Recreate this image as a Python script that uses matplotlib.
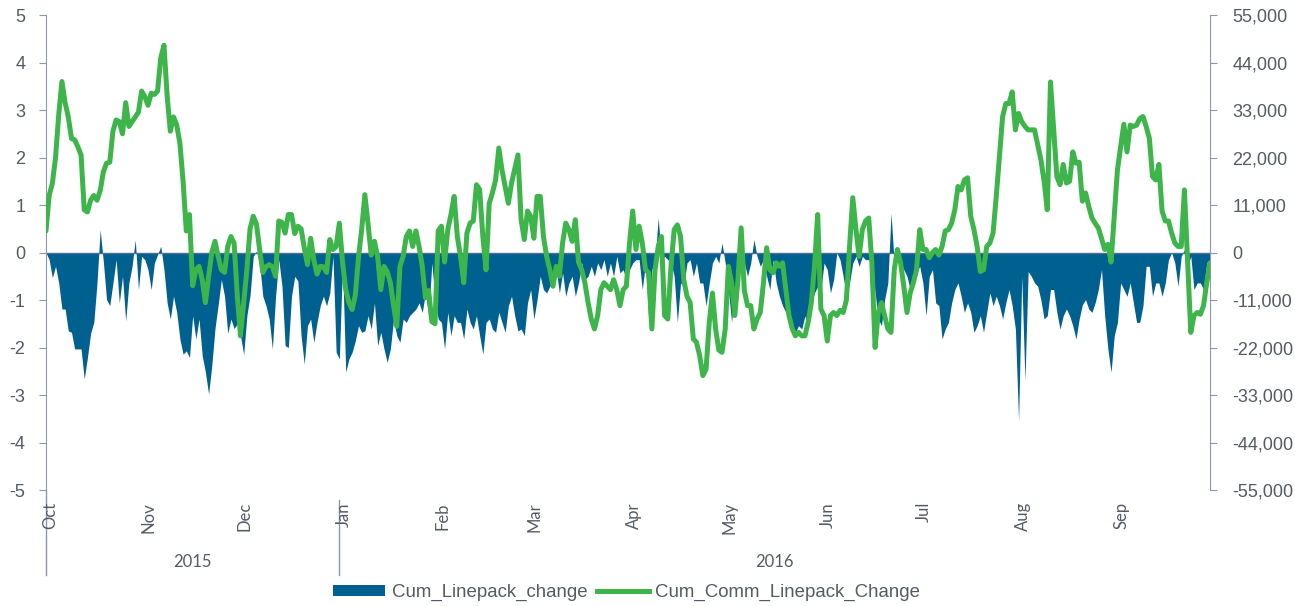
import numpy as np
import pandas as pd
import matplotlib
matplotlib.use("Agg")
import matplotlib.pyplot as plt
import matplotlib.transforms as mtransforms
from matplotlib.patches import Patch
from matplotlib.lines import Line2D
from matplotlib.ticker import FuncFormatter

plt.rcParams["font.family"] = ["Liberation Sans", "DejaVu Sans"]
plt.rcParams["axes.unicode_minus"] = False

# daily values, 1 Oct 2015 .. 30 Sep 2016
start_date = "2015-10-01"
month_labels = ["Oct", "Nov", "Dec", "Jan", "Feb", "Mar", "Apr", "May", "Jun", "Jul", "Aug", "Sep"]
year_labels = ["2015", "2016"]

# Cum_Linepack_change (left axis)
linepack_change = [
    0.0, -0.15, -0.53, -0.29, -0.64, -1.19, -1.19, -1.65, -1.68, -2.03,
    -2.03, -2.03, -2.66, -2.21, -1.7, -1.47, -0.64, 0.48, -0.2, -0.99,
    -1.12, -0.64, -0.15, -1.06, -0.5, -1.44, -0.64, -0.29, 0.27, -0.78,
    -0.08, -0.15, -0.36, -0.78, -0.22, -0.04, 0.13, -0.36, -1.06, -1.4,
    -0.92, -1.26, -1.82, -2.14, -2.07, -2.21, -1.33, -1.82, -1.4, -2.17,
    -2.52, -2.98, -2.38, -1.6, -1.1, -0.57, -0.92, -1.7, -1.4, -1.6,
    -1.5, -1.75, -2.15, -1.33, -0.9, -0.08, 0.03, -0.22, -0.92, -1.12,
    -1.4, -2.03, -0.92, -0.15, -0.7, -1.96, -2.0, -0.92, -0.5, -0.6,
    -1.75, -2.35, -1.54, -1.4, -1.89, -1.47, -1.12, -0.92, -1.12, -0.85,
    -0.08, -2.1, -2.24, -0.22, -2.52, -2.24, -2.1, -1.86, -1.54, -1.68,
    -1.65, -1.33, -1.61, -1.06, -1.96, -1.68, -2.03, -2.31, -2.03, -1.4,
    -1.75, -1.89, -1.4, -1.47, -1.33, -1.26, -1.19, -1.06, -1.26, -0.85,
    -1.33, -0.22, -0.99, -1.4, -1.47, -2.03, -1.26, -1.75, -1.33, -1.47,
    -1.47, -1.82, -1.19, -1.47, -1.61, -1.33, -1.75, -2.14, -1.47, -1.4,
    -1.61, -1.68, -1.26, -1.47, -1.68, -1.12, -0.92, -1.33, -1.65, -1.61,
    -1.75, -1.06, -0.78, -1.4, -0.99, -0.5, -0.78, -0.85, -0.71, -0.64,
    -0.36, -0.85, -0.43, -0.92, -0.64, -0.5, -0.92, -0.64, -0.22, -0.57,
    -0.5, -0.29, -0.5, -0.22, -0.36, -0.15, -0.5, -0.22, -0.5, -0.08,
    -0.43, -0.36, -0.57, -0.36, -0.22, -0.15, -0.15, -0.78, -0.22, -1.4,
    -0.36, -0.15, 0.73, -0.15, -0.08, -0.15, -0.22, -0.5, -1.47, -0.64,
    -0.71, -0.22, -0.15, -0.5, -0.22, -0.64, -0.64, -1.12, -0.64, -0.22,
    -0.08, -0.22, 0.2, -0.22, -0.78, -1.47, -0.71, -0.5, -0.36, -0.22,
    -0.5, -0.22, 0.27, -0.08, -0.29, -0.15, -0.5, -0.78, -0.15, -0.64,
    -0.92, -1.12, -1.26, -1.47, -1.61, -1.68, -1.54, -1.61, -1.33, -1.61,
    -1.06, -0.85, -0.71, -0.78, -0.22, -0.36, -0.85, -0.57, 0.0, -0.15,
    -0.5, -0.92, -0.64, -0.22, -0.08, -0.29, -0.08, -0.15, -0.15, -0.22,
    -0.85, -1.4, -1.54, -0.99, -0.64, 0.83, -0.22, -0.15, -0.22, -0.36,
    -0.5, -0.78, -0.57, -0.43, -0.29, -0.64, -1.33, -0.5, -0.36, -1.06,
    -1.12, -1.82, -1.61, -1.47, -1.06, -0.78, -0.64, -0.92, -1.26, -1.06,
    -1.26, -1.68, -1.54, -1.33, -1.68, -1.26, -0.85, -1.12, -0.92, -1.12,
    -1.4, -1.06, -0.78, -1.12, -1.61, -3.55, -0.5, -2.7, -0.4, -0.5,
    -0.64, -0.71, -1.0, -1.4, -1.33, -0.78, -0.78, -1.26, -1.61, -1.33,
    -1.19, -1.33, -1.54, -1.82, -1.4, -1.1, -0.99, -1.19, -1.26, -1.06,
    -0.78, -0.36, -1.33, -2.03, -2.52, -1.75, -1.47, -0.64, -0.78, -0.92,
    -0.64, -1.06, -1.47, -1.47, -1.12, -0.29, -0.29, -0.92, -0.64, -0.64,
    -0.92, -0.64, -0.15, 0.0, -0.22, -0.71, -0.08, 0.06, -0.29, -0.08,
    -0.78, -0.64, -0.64, -0.78, -0.22, -0.15,
]

# Cum_Comm_Linepack_Change (right axis), in thousands
comm_linepack_k = [
    5.0, 13.2, 16.0, 22.0, 31.9, 39.6, 34.7, 31.4, 26.4, 26.1,
    24.5, 22.6, 9.9, 9.4, 12.1, 13.2, 12.1, 14.3, 18.7, 20.7,
    20.9, 28.1, 30.7, 30.3, 27.5, 34.7, 29.2, 30.3, 31.4, 32.5,
    37.4, 36.1, 34.1, 36.9, 36.6, 37.4, 45.1, 48.0, 36.3, 28.1,
    31.4, 29.5, 25.3, 16.5, 5.0, 8.8, -7.7, -4.0, -3.2, -6.3,
    -11.6, -5.5, 0.0, 2.6, -0.9, -4.0, -4.6, 1.4, 3.7, 2.2,
    -10.1, -19.3, -11.6, -4.0, 5.5, 8.4, 6.6, 0.7, -4.6, -3.3,
    -2.8, -3.3, -5.5, 7.3, 7.0, 4.5, 8.8, 8.8, 4.4, 6.1,
    5.5, 1.1, -2.8, 3.3, -1.7, -5.0, -3.2, -3.3, -4.6, 3.0,
    0.7, 1.4, 6.8, -2.2, -8.6, -11.6, -13.2, -9.9, -1.1, 5.3,
    13.4, 6.6, -0.6, 2.6, -0.9, -8.6, -3.2, -4.4, -7.0, -12.3,
    -17.1, -3.2, -0.9, 3.7, 5.0, 1.4, 5.0, 1.4, -3.2, -10.5,
    -8.8, -16.0, -16.5, 5.0, 6.1, -2.2, 5.3, 8.8, 13.0, 3.7,
    -0.9, -7.0, 4.5, 6.8, 7.3, 15.7, 14.6, 3.7, -4.0, 11.4,
    13.8, 16.8, 24.2, 19.1, 15.3, 11.4, 16.1, 19.3, 22.6, 7.6,
    3.0, 9.6, 8.4, 3.3, 13.0, 13.0, 3.7, -0.9, -4.0, -7.8,
    -3.2, -5.5, 2.2, 6.8, 5.3, 2.6, 7.6, -2.2, -4.0, -7.0,
    -11.6, -15.4, -17.7, -14.6, -8.6, -7.0, -7.8, -8.6, -6.3, -8.6,
    -12.3, -8.6, -7.8, 2.2, 9.6, 0.7, 6.1, 2.2, -4.0, -4.7,
    -17.7, -4.0, 1.4, 3.7, -14.6, -15.4, -3.2, 5.3, 6.4, 3.7,
    -6.3, -10.1, -11.6, -20.0, -20.8, -23.9, -28.5, -27.0, -16.2, -9.4,
    -17.7, -22.6, -23.1, -17.7, -3.2, -7.0, -14.6, -6.3, 5.7, -8.8,
    -12.3, -12.3, -17.7, -15.4, -13.9, -7.0, 1.1, -4.0, -4.7, -2.4,
    -3.2, -2.4, -8.6, -14.6, -17.6, -19.3, -18.5, -19.3, -19.3, -16.2,
    -11.6, -3.2, 8.8, -13.1, -14.6, -20.5, -14.6, -13.9, -14.6, -13.4,
    -13.9, -11.0, 1.4, 12.7, 5.3, -0.9, 5.3, 7.3, 8.0, -2.4,
    -22.0, -13.9, -11.6, -14.6, -17.7, -18.5, -4.0, 0.7, -2.4, -7.8,
    -13.9, -9.4, -7.0, -4.0, 5.3, 0.7, 0.7, -1.2, 0.0, 0.7,
    -0.6, 1.4, 5.0, 5.3, 6.8, 9.9, 15.3, 14.5, 16.8, 17.3,
    8.4, 5.3, 1.4, -4.4, -4.0, 1.4, 2.2, 4.5, 13.0, 22.2,
    31.5, 34.5, 34.5, 37.2, 28.4, 32.2, 30.3, 29.2, 28.4, 28.4,
    28.4, 24.9, 21.5, 16.5, 9.9, 39.5, 28.4, 17.6, 15.7, 20.4,
    16.1, 16.5, 23.3, 20.7, 20.9, 11.9, 13.8, 10.7, 8.0, 6.8,
    5.7, 3.3, 0.7, 1.9, -2.2, 8.4, 19.1, 24.5, 29.7, 23.3,
    29.5, 29.2, 29.5, 31.0, 31.5, 29.2, 26.5, 17.6, 16.8, 20.4,
    9.6, 7.3, 7.3, 4.5, 2.2, 1.4, 1.4, 14.5, -2.2, -18.5,
    -14.6, -13.9, -14.3, -12.3, -7.0, -2.4,
]

BLUE = "#00608f"
GREEN = "#3db54a"
AXIS_COL = "#8d97a8"
TEXT_COL = "#545b66"

dates = pd.date_range(start_date, periods=len(linepack_change), freq="D")
comm = np.array(comm_linepack_k) * 1000
month_starts = pd.date_range(start_date, periods=12, freq="MS")
year_bounds = [pd.Timestamp("2015-10-01"), pd.Timestamp("2016-01-01"), dates[-1]]

fig = plt.figure(figsize=(12.95, 6.06), dpi=100)
ax = fig.add_axes([0.0355, 0.1914, 0.8988, 0.7838])
ax2 = ax.twinx()

ax.fill_between(dates, 0, linepack_change, color=BLUE, lw=0)
ax.axhline(0, color="#4f6f93", lw=1)
ax2.plot(dates, comm, color=GREEN, lw=3.6, solid_joinstyle="round", solid_capstyle="round")

ax.set_xlim(dates[0], dates[-1])
ax.set_ylim(-5, 5)
ax.set_yticks(range(-5, 6))
ax2.set_ylim(-55000, 55000)
ax2.set_yticks(np.arange(-55000, 55001, 11000))
ax2.yaxis.set_major_formatter(FuncFormatter(lambda v, p: f"{v:,.0f}"))
ax.set_xticks([])

for a in (ax, ax2):
    for s in a.spines.values():
        s.set_visible(False)
ax.spines["left"].set_visible(True)
ax.spines["left"].set_color(AXIS_COL)
ax2.spines["right"].set_visible(True)
ax2.spines["right"].set_color(AXIS_COL)

ax.tick_params(axis="y", length=5, color=AXIS_COL, labelsize=13, labelcolor=TEXT_COL, pad=10)
ax2.tick_params(axis="y", length=5, color=AXIS_COL, labelsize=13, labelcolor=TEXT_COL, pad=11)

# month labels, rotated, hanging below the plot
trans = ax.get_xaxis_transform()
month_trans = mtransforms.offset_copy(trans, fig=fig, x=4, y=-12, units="dots")
for d, lab in zip(month_starts, month_labels):
    ax.text(d, 0, lab, rotation=90, ha="center", va="top", transform=month_trans,
            fontsize=12, color=TEXT_COL, family="Lato")

# year row and separators
ax.plot([year_bounds[0], year_bounds[0]], [0, -0.179], transform=trans, color=AXIS_COL,
        lw=1, clip_on=False)
ax.plot([year_bounds[1], year_bounds[1]], [-0.021, -0.179], transform=trans, color=AXIS_COL,
        lw=1, clip_on=False)
for i, lab in enumerate(year_labels):
    mid = year_bounds[i] + (year_bounds[i + 1] - year_bounds[i]) / 2
    ax.text(mid, -0.152, lab, ha="center", va="center", transform=trans,
            fontsize=12, color=TEXT_COL, family="Lato")

handles = [Patch(facecolor=BLUE, edgecolor="none"), Line2D([0], [0], color=GREEN, lw=3.6)]
fig.legend(handles, ["Cum_Linepack_change", "Cum_Comm_Linepack_Change"], loc="center",
           bbox_to_anchor=(0.484, 0.022), ncol=2, frameon=False, handlelength=2.8,
           handleheight=0.55, columnspacing=0.5, handletextpad=0.35,
           prop={"size": 13.4}, labelcolor=TEXT_COL)

fig.savefig("out.png", dpi=100)
